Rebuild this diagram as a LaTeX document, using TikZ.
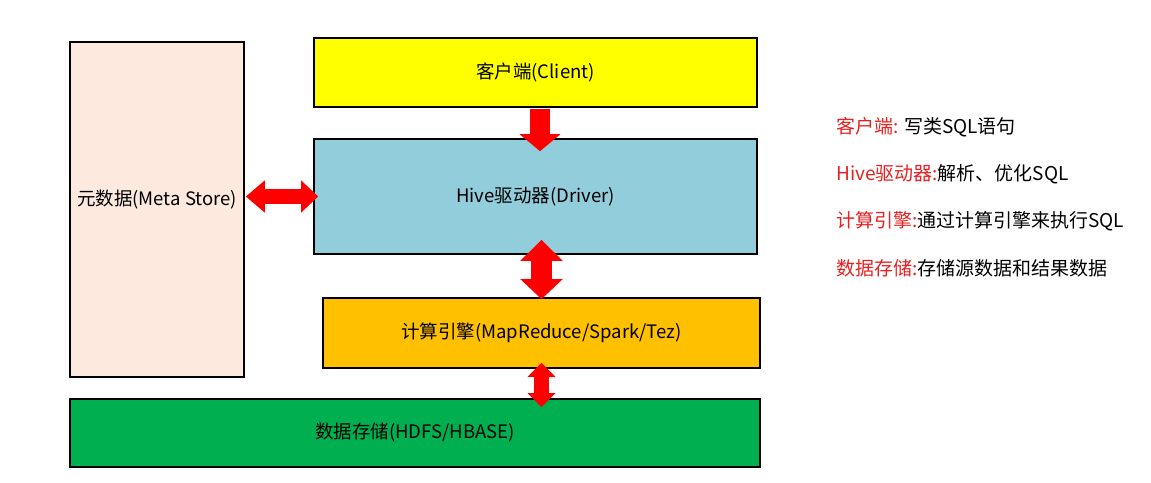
\documentclass[tikz,border=0pt]{standalone}
\usepackage{fontspec}
\setmainfont{Noto Sans CJK SC}
\usetikzlibrary{arrows.meta}
\definecolor{metafill}{RGB}{253,233,222}
\definecolor{clientfill}{RGB}{255,255,0}
\definecolor{driverfill}{RGB}{146,205,220}
\definecolor{enginefill}{RGB}{255,192,0}
\definecolor{storefill}{RGB}{0,176,80}
\definecolor{notered}{RGB}{232,32,32}
\begin{document}
\begin{tikzpicture}[x=1pt,y=-1pt]
\tikzstyle{layer}=[draw, line width=1.6pt, inner sep=0pt, font=\fontsize{18.5}{22}\selectfont];
\tikzstyle{blockarrow}=[draw=red, fill=red];
\tikzstyle{note}=[anchor=west, inner sep=0pt, font=\fontsize{19}{23}\selectfont];

  \useasboundingbox (0,0) rectangle (1151,482);

  \node[layer, fill=metafill, minimum width=174pt, minimum height=335pt,
        label={[font=\fontsize{18.5}{22}\selectfont, yshift=10pt]center:元数据(Meta Store)}] (meta) at (157,209.5) {};
  \node[layer, fill=clientfill, minimum width=443pt, minimum height=69pt] (client) at (535.5,72.5) {客户端(Client)};
  \node[layer, fill=driverfill, minimum width=443pt, minimum height=115pt] (driver) at (535.5,196.5) {Hive驱动器(Driver)};
  \node[layer, fill=enginefill, minimum width=437pt, minimum height=70pt] (engine) at (541.5,333) {计算引擎(MapReduce/Spark/Tez)};
  \node[layer, fill=storefill, minimum width=690pt, minimum height=68pt] (store) at (415,433) {数据存储(HDFS/HBASE)};

  \draw [blockarrow, line width=20pt, -{Triangle[width=40pt,length=17pt]}]
    ([xshift=4.5pt,yshift=-1pt]client.south) -- ([xshift=4.5pt,yshift=-13pt]driver.north);
  \draw [blockarrow, line width=15pt, {Triangle[width=31pt,length=19pt]}-{Triangle[width=31pt,length=17pt]}]
    ([xshift=1pt]meta.east |- driver.west) -- ([xshift=5pt]driver.west);
  \draw [blockarrow, line width=21pt, {Triangle[width=41pt,length=21pt]}-{Triangle[width=41pt,length=20pt]}]
    ([yshift=15pt]engine.north |- driver.south) -- ([yshift=-2pt]engine.north);
  \draw [blockarrow, line width=15pt, {Triangle[width=27pt,length=14pt]}-{Triangle[width=27pt,length=14pt]}]
    ([yshift=6pt]engine.south) -- ([yshift=-9pt]engine.south |- store.north);

  \foreach \i/\y/\key/\desc in {1/127/客户端:/ 写类SQL语句, 2/174/Hive驱动器:/解析、优化SQL,
      3/221/计算引擎:/通过计算引擎来执行SQL, 4/268/数据存储:/存储源数据和结果数据}
    \node[note] (note\i) at (836,\y) {\textcolor{notered}{\key}\desc};

\end{tikzpicture}
\end{document}
